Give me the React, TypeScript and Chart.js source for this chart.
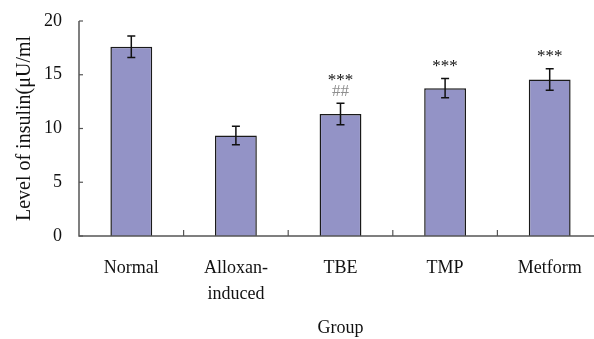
import React, { useEffect, useRef } from "react";
import { Chart, registerables } from "chart.js";

Chart.register(...registerables);

const categories: (string | string[])[] = ["Normal", ["Alloxan-", "induced"], "TBE", "TMP", "Metform"];
const insulinMeans = [17.6, 9.35, 11.35, 13.75, 14.55];
const insulinErrors = [1.0, 0.85, 1.0, 0.9, 1.0];
const starMarks = ["", "", "***", "***", "***"];
const hashMarks = ["", "", "##", "", ""];
const yTicks = [0, 5, 10, 15, 20];

const FONT = "'Liberation Serif', 'Times New Roman', serif";

const decorPlugin = {
  id: "decor",
  afterDatasetsDraw(chart: any) {
    const ctx = chart.ctx;
    const xs = chart.scales.x;
    const ys = chart.scales.y;
    const area = chart.chartArea;
    ctx.save();
    // error bars
    ctx.strokeStyle = "#111";
    ctx.lineWidth = 1.5;
    insulinMeans.forEach((m, i) => {
      const x = xs.getPixelForValue(i);
      const yt = ys.getPixelForValue(m + insulinErrors[i]);
      const yb = ys.getPixelForValue(m - insulinErrors[i]);
      ctx.beginPath();
      ctx.moveTo(x, yt);
      ctx.lineTo(x, yb);
      ctx.moveTo(x - 4, yt);
      ctx.lineTo(x + 4, yt);
      ctx.moveTo(x - 4, yb);
      ctx.lineTo(x + 4, yb);
      ctx.stroke();
    });
    // significance marks
    ctx.textAlign = "center";
    ctx.textBaseline = "middle";
    insulinMeans.forEach((m, i) => {
      const x = xs.getPixelForValue(i);
      const yt = ys.getPixelForValue(m + insulinErrors[i]);
      if (hashMarks[i]) {
        ctx.fillStyle = "#8f8f8f";
        ctx.font = `17px ${FONT}`;
        ctx.fillText(hashMarks[i], x, yt - 12);
        ctx.fillStyle = "#111";
        ctx.font = `17px ${FONT}`;
        ctx.fillText(starMarks[i], x, yt - 23);
      } else if (starMarks[i]) {
        ctx.fillStyle = "#111";
        ctx.font = `17px ${FONT}`;
        ctx.fillText(starMarks[i], x, yt - 12);
      }
    });
    // axes
    ctx.strokeStyle = "#555";
    ctx.lineWidth = 1.5;
    ctx.beginPath();
    ctx.moveTo(area.left, area.top);
    ctx.lineTo(area.left, area.bottom);
    ctx.lineTo(area.right, area.bottom);
    ctx.stroke();
    // y inner ticks
    ctx.lineWidth = 1.2;
    yTicks.forEach((v) => {
      const y = ys.getPixelForValue(v);
      ctx.beginPath();
      ctx.moveTo(area.left, y);
      ctx.lineTo(area.left + 4, y);
      ctx.stroke();
    });
    // x inner ticks at category boundaries
    for (let i = 0; i < categories.length - 1; i++) {
      const x = (xs.getPixelForValue(i) + xs.getPixelForValue(i + 1)) / 2;
      ctx.beginPath();
      ctx.moveTo(x, area.bottom);
      ctx.lineTo(x, area.bottom - 6);
      ctx.stroke();
    }
    ctx.restore();
  },
};

export default function App() {
  const ref = useRef<HTMLCanvasElement>(null);
  useEffect(() => {
    if (!ref.current) return;
    const chart = new Chart(ref.current, {
      type: "bar",
      data: {
        labels: categories as any,
        datasets: [
          {
            data: insulinMeans,
            backgroundColor: "#9393C6",
            borderColor: "#1a1a1a",
            borderWidth: 1.5,
            barPercentage: 0.4,
            categoryPercentage: 1,
          },
        ],
      },
      options: {
        animation: false,
        responsive: false,
        maintainAspectRatio: false,
        layout: { padding: { top: 21, left: 0, right: 18, bottom: 0 } },
        plugins: { legend: { display: false }, tooltip: { enabled: false } },
        scales: {
          x: {
            offset: true,
            grid: { display: false, drawTicks: false },
            border: { display: false },
            ticks: {
              color: "#111",
              padding: 20,
              maxRotation: 0,
              autoSkip: false,
              font: { family: FONT, size: 18, lineHeight: 1.4 },
            },
            title: {
              display: true,
              text: "Group",
              color: "#111",
              font: { family: FONT, size: 18, lineHeight: 1.2 },
              padding: { top: 12, bottom: 0 },
            },
            afterFit: (s: any) => {
              s.height = 103;
              s.paddingLeft = 0;
              s.paddingRight = 0;
            },
          },
          y: {
            min: 0,
            max: 20,
            grid: { display: false, drawTicks: false },
            border: { display: false },
            ticks: {
              stepSize: 5,
              color: "#111",
              padding: 17,
              font: { family: FONT, size: 18 },
            },
            title: {
              display: true,
              text: "Level of insulin(μU/ml",
              color: "#111",
              font: { family: FONT, size: 20, lineHeight: 1.2 },
              padding: { top: 13, bottom: 0 },
            },
            afterFit: (s: any) => {
              s.width = 79;
              s.paddingTop = 0;
              s.paddingBottom = 0;
            },
          },
        },
      },
      plugins: [decorPlugin],
    });
    return () => chart.destroy();
  }, []);
  return (
    <div style={{ position: "fixed", left: 0, top: 0, width: 594, height: 339, overflow: "hidden", background: "#fff" }}>
      <canvas ref={ref} width={620} height={339} style={{ display: "block" }} />
    </div>
  );
}
